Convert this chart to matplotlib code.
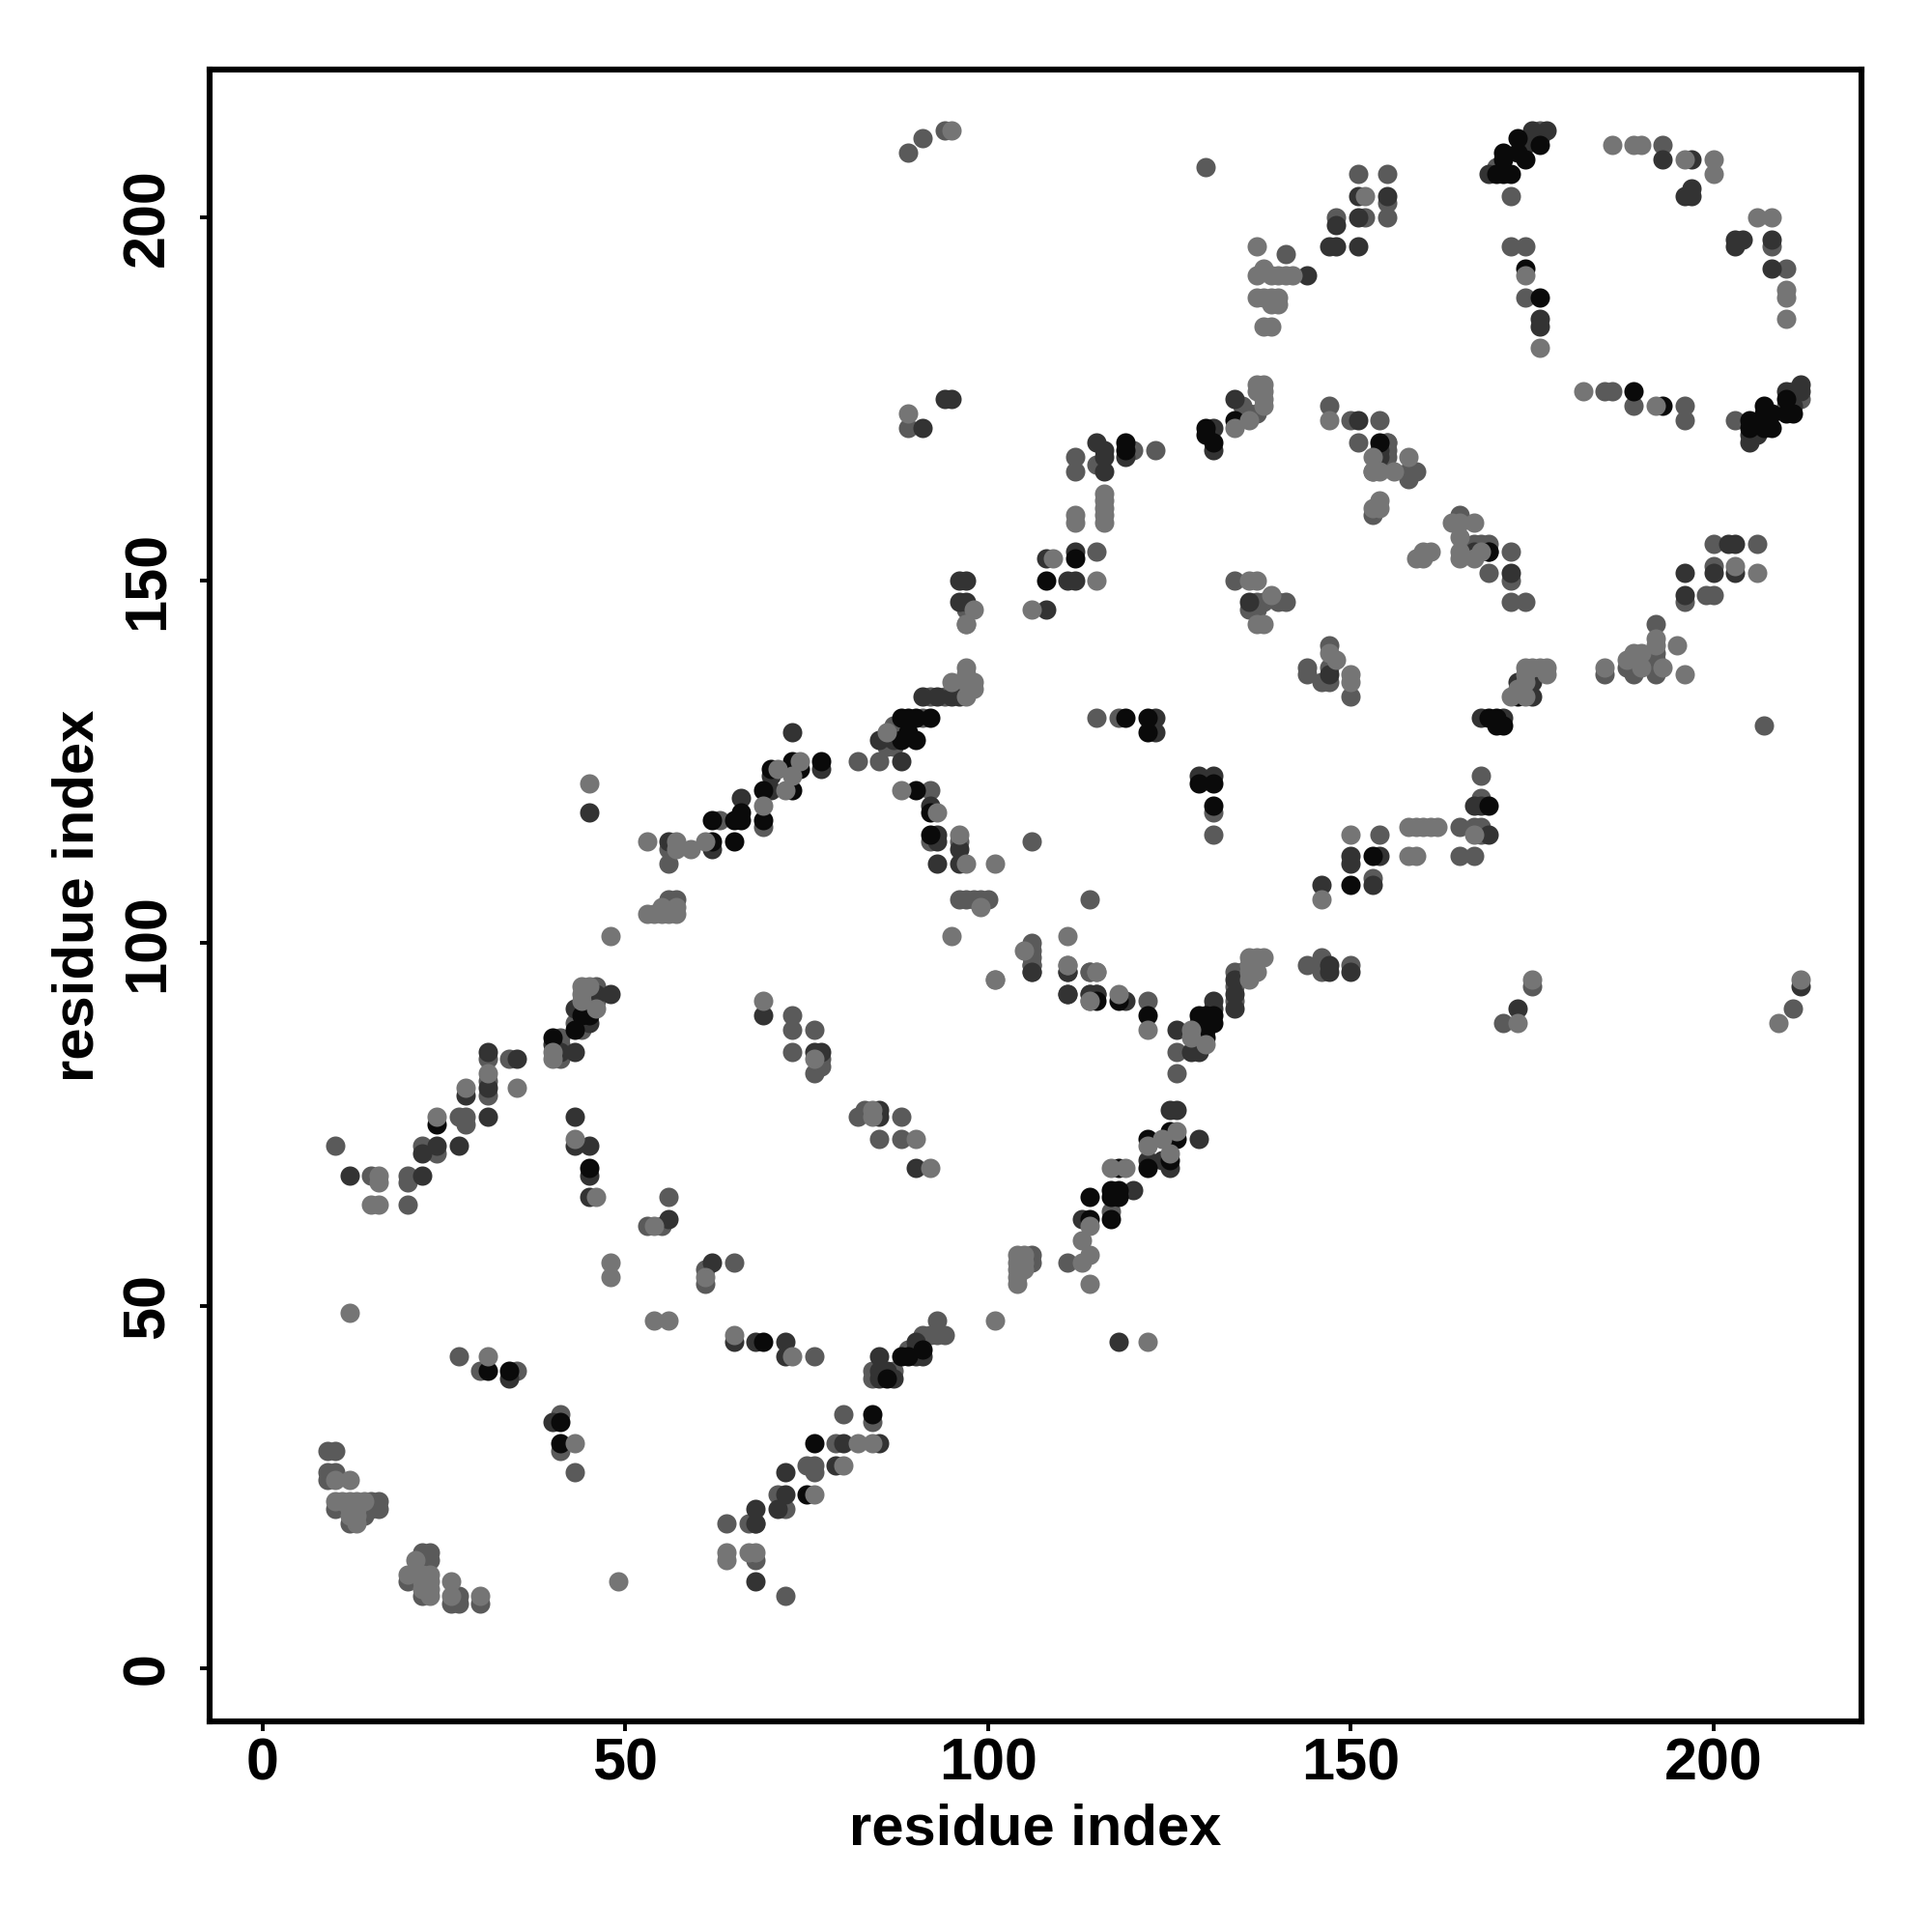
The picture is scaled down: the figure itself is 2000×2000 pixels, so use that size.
import numpy as np
import matplotlib
matplotlib.use('Agg')
import matplotlib.pyplot as plt

plt.rcParams['font.family'] = ['Liberation Sans', 'DejaVu Sans']

# residue pairs, one list per grey level
mid_pts = [
    (10,72),(15,68),(20,68),(20,67),(20,64),(22,72),(24,71),(27,76),(28,76),(28,75),(31,79),(31,81),(31,84),(34,84),
    (56,65),(53,61),(55,61),(61,55),(61,53),(65,56),(27,43),(30,41),(35,41),(41,35),(41,30),(43,27),
    (9,30),(10,30),(9,27),(10,27),(9,26),(10,22),(12,20),(15,23),(16,23),(15,22),(16,22),(14,21),
    (71,24),(72,22),(64,20),(67,20),(68,15),(72,10),(22,16),(23,16),(22,15),(23,15),(20,12),(22,10),(26,9),(27,10),(27,9),(30,9),
    (75,28),(76,28),(76,27),(68,20),
    (73,90),(73,88),(76,88),(73,85),(77,84),(77,83),(76,82),(82,76),(83,77),(88,76),(85,73),(88,73),
    (76,43),(80,35),(84,34),(79,31),(84,41),(84,40),(87,41),(89,44),(91,46),(93,48),(92,46),(93,46),(94,46),
    (106,57),(106,56),(111,56),(117,63),(122,92),(106,96),(106,97),(114,96),(114,92),(126,85),(126,82),
    (134,92),(134,94),(134,96),(144,97),(146,98),(146,96),(150,97),(135,96),
    (56,113),(56,111),(63,117),(69,116),(82,125),(85,125),(86,127),(87,130),(87,127),(91,131),(92,134),(94,134),
    (92,121),(92,114),(96,114),(106,114),(96,106),(97,106),(98,106),(99,106),(100,106),(114,106),
    (56,106),(57,106),(56,105),(106,100),(106,99),(106,98),(106,97),(114,96),(114,93),
    (46,94),(45,93),(46,92),(43,89),(44,88),(41,87),(41,86),(41,84),
    (115,154),(112,167),(112,165),(115,166),(120,168),(123,168),(135,174),(136,173),(137,173),
    (147,174),(150,172),(154,172),(151,169),(155,169),(155,168),(155,167),(158,165),(159,165),(158,164),(153,159),
    (165,159),(167,155),(168,155),(169,155),(172,154),(169,151),(172,150),(172,147),(174,147),
    (134,150),(137,147),(138,147),(140,147),(141,147),(136,146),(137,146),
    (147,141),(144,138),(144,137),(147,138),(146,136),(147,136),(150,134),
    (115,131),(118,131),(131,118),(131,115),(168,123),(168,120),(165,116),(167,116),(168,116),(168,115),(165,112),(167,112),(154,115),
    (153,109),(175,94),(171,89),(211,91),(207,130),(185,137),(189,137),(192,144),(192,140),(192,139),(192,138),(192,137),(188,138),(189,138),
    (196,147),(199,148),(200,148),(200,152),(200,155),(206,155),
    (148,200),(141,195),(89,209),(91,211),(94,212),(130,207),(89,171),(97,146),
    (151,206),(155,206),(155,202),(152,200),(155,200),(170,207),(172,203),(172,196),(174,196),(174,189),
    (193,210),(208,196),(210,193),(185,176),(186,176),(189,174),(196,174),(196,172),(203,172),(211,176),(212,175),(210,174),
]
dark_pts = [
    (12,68),(22,68),(22,71),(24,72),(27,72),(31,76),(28,79),(31,80),(31,85),(35,84),(43,76),(43,72),(45,72),(45,68),(45,65),
    (56,62),(62,56),(65,45),(68,45),(72,45),(72,43),(34,40),(40,34),(72,27),(72,24),(71,22),(68,22),(68,20),(68,12),(79,28),(80,31),(85,31),
    (76,85),(77,85),(85,77),(85,76),(90,69),(85,43),(85,41),(85,40),(86,41),(87,40),(90,45),(90,44),(90,43),(91,43),
    (118,45),(113,62),(120,66),(122,70),(124,70),(125,69),(129,73),(125,77),(126,77),(126,88),(128,85),(129,87),(129,85),
    (131,92),(131,91),(134,91),(134,93),(134,95),(111,93),(114,93),(115,93),(119,92),(111,96),(147,97),(147,96),(150,96),
    (56,114),(62,113),(66,120),(70,121),(70,123),(73,129),(85,128),(87,128),(88,125),(77,124),(93,134),(91,134),(95,134),(96,134),(96,135),(97,135),
    (92,119),(93,115),(93,114),(93,111),(96,111),(96,113),(45,118),
    (106,96),(111,96),(111,93),(115,93),(46,93),(48,93),(43,91),(45,89),(40,86),(41,85),(43,85),(69,90),
    (108,146),(111,150),(112,150),(108,153),(112,154),(115,169),(116,168),(116,167),(116,165),(119,167),(131,171),(131,168),(134,175),
    (151,172),(154,168),(154,167),(169,154),(167,154),(172,151),(136,147),(147,137),(173,136),(175,136),(175,134),
    (123,131),(123,129),(129,123),(131,123),(167,119),(168,119),(169,115),(150,112),(150,111),(154,112),(153,108),(146,108),
    (173,91),(212,94),(196,151),(196,148),(200,151),(203,151),(202,155),(203,155),(168,131),(171,131),(96,147),(97,147),(96,150),(97,150),
    (91,171),(94,175),(95,175),(147,196),(148,196),(148,199),(144,192),
    (151,203),(155,203),(151,200),(151,196),(169,206),(174,210),(175,212),(177,212),(176,211),(176,186),(176,185),
    (193,208),(197,208),(197,204),(196,203),(197,203),(203,197),(204,197),(203,196),(208,197),(208,193),
    (205,170),(205,169),(206,171),(206,170),(210,176),(212,177),(212,176),(211,174),
]
black_pts = [
    (24,75),(45,69),(31,41),(34,41),(41,34),(41,31),(69,45),(76,31),(84,35),(75,24),
    (88,43),(89,43),(91,44),(86,40),(114,62),(114,65),(117,62),(117,66),(117,65),(118,66),(118,65),
    (118,69),(122,73),(122,69),(125,74),(125,70),(125,73),(126,73),(129,90),(129,89),(129,88),(130,90),(130,89),(130,88),(130,87),
    (131,90),(131,89),(122,90),(115,92),(118,92),
    (62,114),(65,114),(62,117),(65,117),(66,118),(66,117),(69,117),(69,121),(73,121),(70,124),(73,125),(73,124),(74,124),(77,125),
    (88,131),(89,131),(90,131),(92,131),(88,128),(89,129),(90,128),(90,121),(92,118),(92,115),
    (45,90),(44,90),(43,88),(40,87),(108,150),(112,153),(119,169),(119,168),(130,171),(130,170),(131,169),(134,172),
    (154,169),(169,154),(119,131),(122,131),(122,129),(129,122),(131,122),(131,119),(169,119),(153,112),(150,108),
    (173,134),(169,131),(170,131),(170,130),(171,130),(171,209),(171,208),(170,206),(171,206),(172,206),(173,211),(173,209),(174,208),(176,210),
    (174,193),(176,189),(193,174),(189,176),
    (205,172),(205,171),(207,171),(207,174),(207,173),(208,173),(208,171),(210,175),(210,173),(211,173),
]
light_pts = [
    (16,68),(16,67),(15,64),(16,64),(24,76),(28,80),(31,82),(35,80),(43,73),(46,65),(54,61),(48,56),(48,54),(61,54),(12,49),
    (54,48),(56,48),(65,46),(73,43),(31,43),(43,31),(10,26),(12,26),(10,23),(11,23),(12,23),(13,23),(14,23),(12,22),(13,22),(12,21),(13,21),(13,20),
    (64,16),(64,15),(67,16),(68,16),(49,12),(21,15),(20,13),(22,13),(23,13),(22,12),(23,12),(22,11),(23,11),(23,10),(26,12),(26,10),(30,10),
    (69,92),(84,77),(84,76),(90,73),(92,69),(76,84),(82,31),(84,31),(76,24),(80,28),
    (101,48),(122,45),(104,57),(105,57),(104,56),(105,56),(104,55),(105,55),(104,54),(104,53),(113,56),(114,57),(113,59),(114,61),(114,53),
    (117,69),(119,69),(122,72),(125,71),(124,73),(126,74),(122,88),(128,88),(128,87),(130,86),(118,93),(101,95),(111,97),(115,96),(136,95),(136,96),
    (45,122),(53,114),(57,114),(57,113),(59,113),(61,114),(69,119),(72,121),(74,125),(71,124),(73,123),(86,129),
    (95,136),(97,138),(98,136),(98,135),(97,137),(97,136),(97,134),(97,144),(88,121),(93,118),(96,115),(97,111),(101,111),(99,105),(53,104),(54,104),(55,105),
    (55,104),(57,105),(56,104),(57,104),(48,101),(95,101),(111,101),(105,99),(101,95),(111,97),(115,96),(114,92),
    (44,94),(44,93),(44,92),(45,94),(46,91),(40,85),(40,84),
    (106,146),(109,153),(115,150),(112,159),(112,158),(116,162),(116,161),(116,160),(116,159),(116,158),
    (134,171),(136,172),(137,177),(138,177),(137,176),(138,176),(138,175),(138,174),
    (147,172),(153,167),(153,165),(154,165),(156,165),(158,167),(154,161),(153,160),(154,160),
    (164,158),(165,158),(167,158),(165,156),(165,154),(165,153),(167,153),(168,154),(159,153),(160,154),(161,154),(160,153),
    (136,150),(137,150),(139,148),(137,144),(138,144),(147,140),(148,139),(150,137),(150,136),
    (174,138),(175,138),(176,138),(177,138),(174,137),(177,137),(173,135),(174,136),(172,134),(174,134),
    (158,116),(159,116),(160,116),(161,116),(162,116),(167,115),(158,112),(159,112),(150,115),(146,106),
    (175,95),(173,89),(212,95),(209,89),(185,138),(188,139),(189,140),(190,140),(190,138),(192,142),(192,141),(193,138),(195,141),(196,137),
    (203,152),(206,151),(98,146),(97,144),(136,98),(137,98),(138,98),(136,97),(137,96),
    (137,196),(137,192),(138,193),(139,192),(140,192),(141,192),(142,192),(137,189),(138,189),(139,189),(140,189),(139,188),(140,188),(138,185),(139,185),
    (95,212),(89,173),(152,203),(174,192),(186,210),(189,210),(190,210),(196,208),(200,208),(200,206),
    (206,200),(208,200),(210,190),(210,189),(210,186),(176,182),(182,176),(192,174),
]
mid_extra = [(153,165),(176,212),(155,169),(166,154)]

groups = [
    (mid_pts + mid_extra, '#5a5a5a'),
    (dark_pts, '#333333'),
    (black_pts, '#0a0a0a'),
    (light_pts, '#757575'),
]
tick_vals = [0, 50, 100, 150, 200]

fig = plt.figure(figsize=(10, 10), dpi=200)
ax = fig.add_axes([0.1085, 0.109, 0.855, 0.855])

for pts, col in groups:
    arr = np.array(pts)
    ax.scatter(arr[:, 0], arr[:, 1], s=52, c=col, linewidths=0, zorder=3)

ax.set_xlim(-7.3, 220.4)
ax.set_ylim(-7.3, 220.4)
ax.set_xticks(tick_vals)
ax.set_yticks(tick_vals)
ax.tick_params(length=3.5, width=1.4, labelsize=22)
ax.tick_params(axis='x', pad=2.5)
ax.tick_params(axis='y', pad=9)
for lab in ax.get_xticklabels():
    lab.set_fontweight('bold')
for lab in ax.get_yticklabels():
    lab.set_fontweight('bold')
    lab.set_rotation(90)
    lab.set_va('center')
for sp in ax.spines.values():
    sp.set_linewidth(2.2)
ax.set_xlabel('residue index', fontsize=21.5, fontweight='bold', labelpad=4)
ax.set_ylabel('residue index', fontsize=21.5, fontweight='bold', labelpad=6)

fig.savefig('out.png', dpi=200)
